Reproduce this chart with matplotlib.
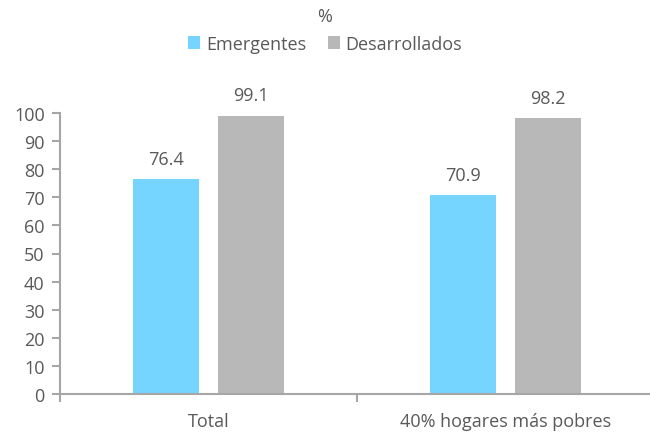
import matplotlib
matplotlib.use("Agg")
import matplotlib.pyplot as plt
import numpy as np

categories = ["Total", "40% hogares más pobres"]
series_names = ["Emergentes", "Desarrollados"]
emergentes = [76.4, 70.9]
desarrollados = [99.1, 98.2]
yticks = list(range(0, 101, 10))

plt.rcParams['font.family'] = ['Open Sans', 'DejaVu Sans']
txt = '#595959'
spine = '#A6A6A6'
c1 = '#75D5FF'
c2 = '#B8B8B8'
fs = 13

fig = plt.figure(figsize=(6.5, 4.35), dpi=100)
ax = fig.add_axes([60/650, 40/435, 594/650, 281/435])

x = np.arange(len(categories))
w = 0.222
off = 0.142
b1 = ax.bar(x - off, emergentes, w, color=c1, label=series_names[0])
b2 = ax.bar(x + off, desarrollados, w, color=c2, label=series_names[1])
for bars, vals in ((b1, emergentes), (b2, desarrollados)):
    for r, v in zip(bars, vals):
        ax.text(r.get_x() + r.get_width()/2, v + 4, f"{v:.1f}", ha='center', va='bottom',
                fontsize=fs, color=txt)

ax.set_xlim(-0.5, 1.5)
ax.set_ylim(0, 100)
ax.set_yticks(yticks)
ax.set_xticks(x)
ax.set_xticklabels(categories)
ax.set_xticks([-0.5, 0.5, 1.5], minor=True)
ax.tick_params(axis='x', which='major', length=0, pad=13, labelsize=fs, labelcolor=txt)
ax.tick_params(axis='x', which='minor', length=6, color=spine, width=1.5)
ax.tick_params(axis='y', length=6, color=spine, width=1.5, labelsize=fs, labelcolor=txt, pad=5)
for s in ['top', 'right']:
    ax.spines[s].set_visible(False)
for s in ['left', 'bottom']:
    ax.spines[s].set_color(spine)
    ax.spines[s].set_linewidth(1.5)

fig.text(0.5, 1 - 17/435, "%", ha='center', va='center', fontsize=fs, color=txt)
fig.legend(handles=[b1, b2], labels=series_names, loc='center', bbox_to_anchor=(0.5, 1 - 45/435),
           ncol=2, frameon=False, fontsize=fs, labelcolor=txt, handlelength=0.7, handleheight=0.7,
           handletextpad=0.3, columnspacing=1.2)

fig.savefig("out.png", dpi=100)
